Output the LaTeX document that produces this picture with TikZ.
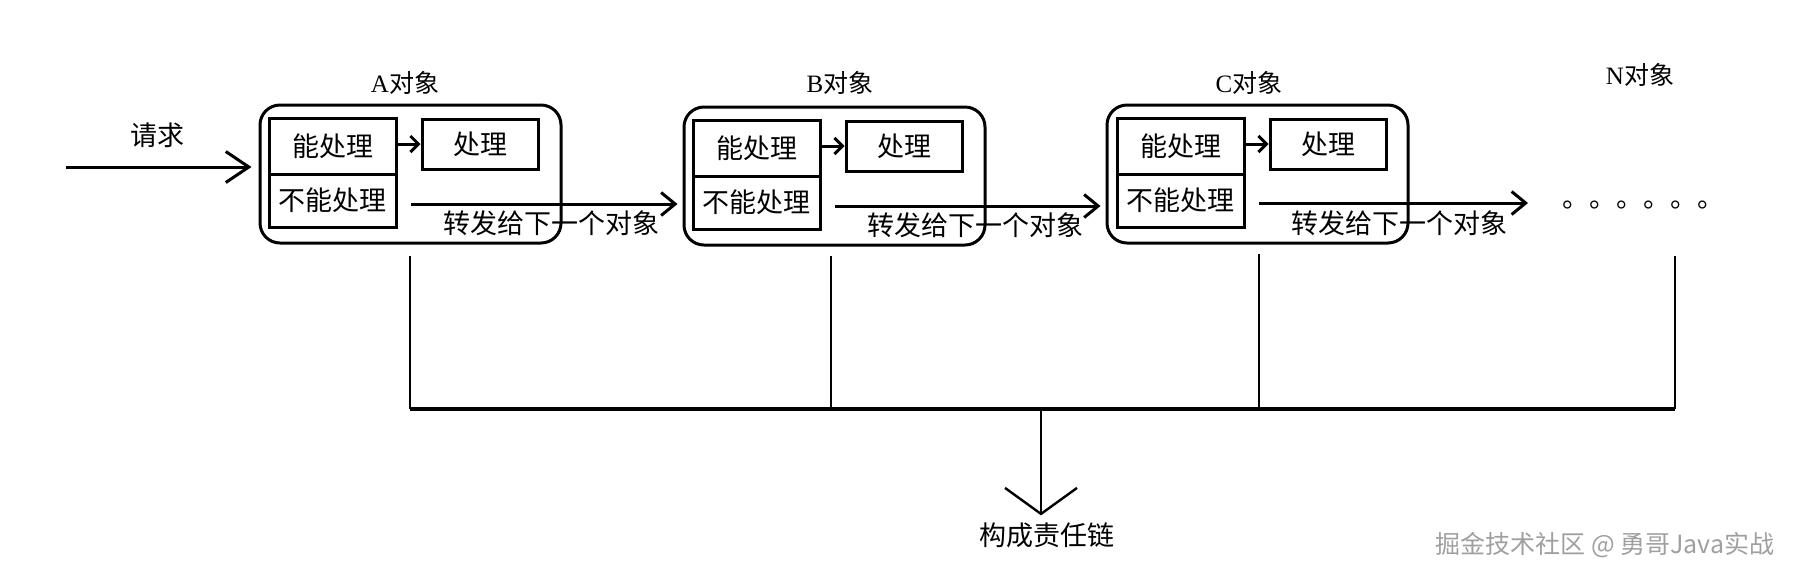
\documentclass[tikz,border=0pt]{standalone}
\usepackage{fontspec}
\setmainfont{Liberation Serif}
\newfontfamily\cjk{Noto Sans CJK SC}
\usetikzlibrary{arrows.meta}

\tikzset{
  objbox/.style={draw, line width=1.5pt, rounded corners=10pt, minimum width=150.5pt, minimum height=69pt, inner sep=0pt},
  cellbox/.style={draw, line width=1.5pt, minimum width=63.5pt, inner sep=0pt},
  dobox/.style={draw, line width=1.5pt, minimum width=58pt, minimum height=25pt, inner sep=0pt},
  fwd/.style={line width=1.5pt, -{Straight Barb[length=7pt,width=11.5pt]}},
  short/.style={line width=1.5pt, -{Straight Barb[length=4pt,width=8pt]}},
  link/.style={line width=1.2pt},
  title/.style={font=\cjk\fontsize{12.5}{15}\selectfont}
}

\begin{document}
\begin{tikzpicture}[x=0.5pt, y=-0.5pt, font=\cjk\fontsize{13.5}{16}\selectfont]
  % Keep the page at the size of the picture
  \useasboundingbox (0,0) rectangle (1797,575);

  % The request coming in
  \node (req) at (157,135) {请求};
  \coordinate (reqin) at (66,167);

  % A object
  \node[title] (Atitle) at (405,83) {{\rmfamily A}对象};
  \node[objbox] (Abox) at (410.5,174) {};
  \node[cellbox, minimum height=28pt] (Acan) at (332.5,146) {能处理};
  \node[cellbox, minimum height=26.5pt] (Acannot) at (332.5,200.5) {不能处理};
  \node[dobox] (Ado) at (480,144) {处理};
  \node (Asend) at (551,223) {转发给下一个对象};
  \coordinate (Aout) at (411,204);

  % B object
  \node[title] (Btitle) at (840,83) {{\rmfamily B}对象};
  \node[objbox] (Bbox) at (834.5,176) {};
  \node[cellbox, minimum height=28pt] (Bcan) at (756.5,148) {能处理};
  \node[cellbox, minimum height=26.5pt] (Bcannot) at (756.5,202.5) {不能处理};
  \node[dobox] (Bdo) at (904,146) {处理};
  \node (Bsend) at (975,225) {转发给下一个对象};
  \coordinate (Bout) at (835,206);

  % C object
  \node[title] (Ctitle) at (1249,83) {{\rmfamily C}对象};
  \node[objbox] (Cbox) at (1257.5,174) {};
  \node[cellbox, minimum height=28pt] (Ccan) at (1180.5,146) {能处理};
  \node[cellbox, minimum height=26.5pt] (Ccannot) at (1180.5,200.5) {不能处理};
  \node[dobox] (Cdo) at (1328,144) {处理};
  \node (Csend) at (1399,223) {转发给下一个对象};
  \coordinate (Cout) at (1259,203);
  \coordinate (Cend) at (1528,203);

  % N object
  \node[title] (Ntitle) at (1640,75) {{\rmfamily N}对象};
  \node[anchor=base west, inner sep=0pt] (dots) at (1562,207) {。。。。。。};

  % Arrows between the objects
  \draw[line width=1.5pt, -{Straight Barb[length=11.5pt,width=15.5pt]}, shorten >=3.5pt] (reqin) -- (reqin -| Abox.west);
  \draw[short] (Acan.east |- Ado) -- (Ado.west);
  \draw[short] (Bcan.east |- Bdo) -- (Bdo.west);
  \draw[short] (Ccan.east |- Cdo) -- (Cdo.west);
  \draw[fwd, shorten >=2.5pt] (Aout) -- (Aout -| Bbox.west);
  \draw[fwd, shorten >=2.5pt] (Bout) -- (Bout -| Cbox.west);
  \draw[fwd] (Cout) -- (Cend);

  % Lines joining into the chain
  \coordinate (Adrop) at (410,256);
  \coordinate (Bdrop) at (831,256);
  \coordinate (Cdrop) at (1259,254);
  \coordinate (Ndrop) at (1675,256);
  \coordinate (busL) at (410,409);
  \coordinate (busR) at (1675,409);
  \coordinate (busM) at (1041,409);
  \draw[link] (Adrop) -- (Adrop |- busL);
  \draw[link] (Bdrop) -- (Bdrop |- busL);
  \draw[link] (Cdrop) -- (Cdrop |- busL);
  \draw[link] (Ndrop) -- (Ndrop |- busL);
  \draw[line width=1.6pt] (busL) -- (busR);

  \node (chain) at (1047,535) {构成责任链};
  \draw[line width=1.2pt, -{Straight Barb[length=13pt,width=36pt]}] (busM) -- (busM |- chain.north);

  % Watermark
  \node[text=gray!75, font=\cjk\fontsize{12.5}{15}\selectfont] (mark) at (1605,545) {掘金技术社区 @ 勇哥Java实战};
\end{tikzpicture}
\end{document}
